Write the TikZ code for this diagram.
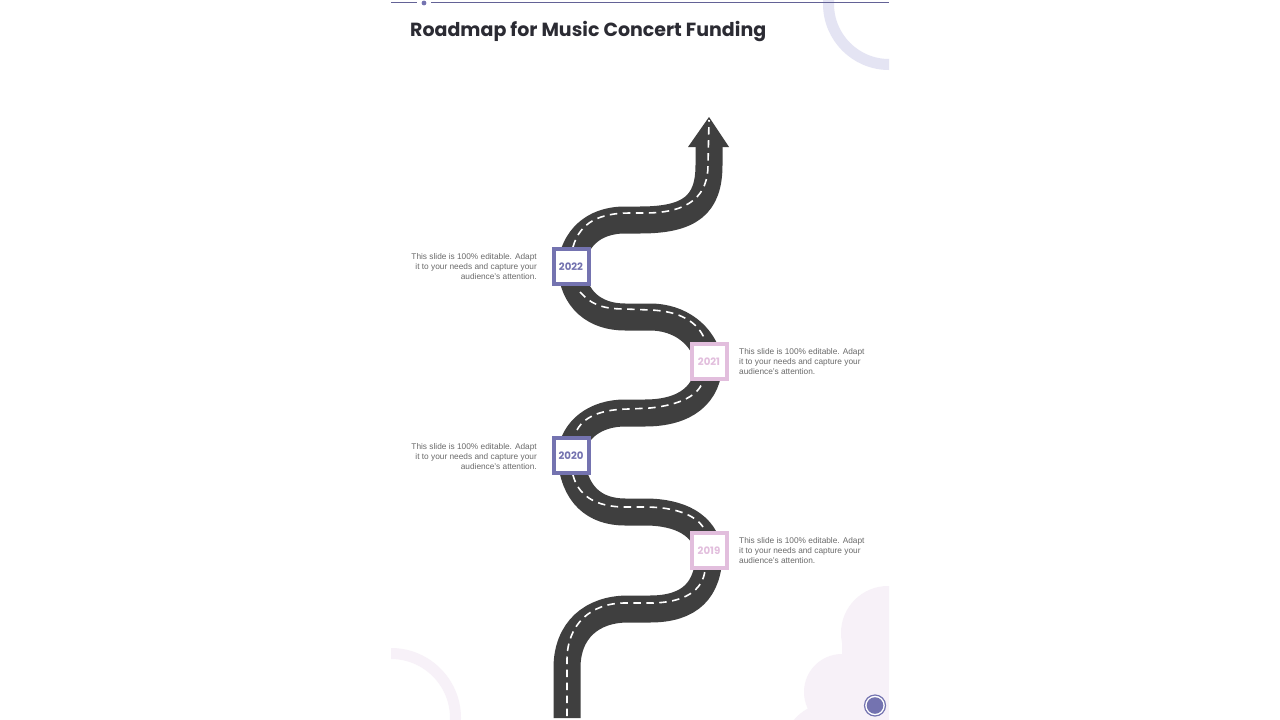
\documentclass[tikz,border=0pt]{standalone}
\usepackage{fontspec}
\setmainfont{Liberation Sans}
\newfontfamily\titlefont{Poppins}
\definecolor{roadc}{HTML}{3F3F3F}
\definecolor{purp}{HTML}{7473B0}
\definecolor{pinkb}{HTML}{E2BEDD}
\definecolor{ringa}{HTML}{E4E4F3}
\definecolor{ringb}{HTML}{F7F1F8}
\definecolor{bodyc}{HTML}{6A6A6A}
\definecolor{titlec}{HTML}{2B2B33}
\tikzset{
  yearbox/.style={draw=#1,line width=4pt,fill=white,minimum size=35pt,inner sep=0pt,text=#1,font=\titlefont\bfseries\fontsize{10.2}{12}\selectfont},
  leftnote/.style={anchor=east,align=right,text=bodyc,inner sep=0pt,font=\fontsize{8.3}{10}\selectfont},
  rightnote/.style={anchor=west,align=left,text=bodyc,inner sep=0pt,font=\fontsize{8.3}{10}\selectfont},
  roadline/.style={draw=roadc,line width=27pt,line join=round},
  laneline/.style={draw=white,line width=1.6pt,dash pattern=on 7.5pt off 5.5pt}
}
\begin{document}
\begin{tikzpicture}[x=1pt,y=-1pt]
\useasboundingbox (0,0) rectangle (1280,720);
\fill[white] (0,0) rectangle (1280,720);
% decorative shapes
\begin{scope}
\clip (391,0) rectangle (889,720);
\draw[ringa,line width=11pt] (889,4) circle[radius=60.5];
\draw[ringb,line width=11pt] (391,718) circle[radius=64.5];
\fill[ringb] (888,633) circle[radius=47];
\fill[ringb] (842,692) circle[radius=38];
\fill[ringb] (830,750) circle[radius=47];
\fill[ringb] (842,640) rectangle (889,720);
\end{scope}
% top rule
\draw[purp!85!black,line width=1.2pt] (391,2.5) -- (417,2.5);
\draw[purp!85!black,line width=1.2pt] (431,2.5) -- (889,2.5);
\fill[purp] (424,3) circle[radius=2.4];
% title
\node[anchor=west,inner sep=0pt,text=titlec,font=\titlefont\bfseries\fontsize{19}{24}\selectfont] (title) at (410,31.5) {Roadmap for Music Concert Funding};
% road
\draw[roadline] (567,718) -- (567,668)
  .. controls (567,630) and (592,609) .. (628,609) -- (650,609)
  .. controls (690,609) and (709,590) .. (709,552)
  .. controls (705,525) and (680,512) .. (645,512) -- (625,512)
  .. controls (595,512) and (573,495) .. (571,455)
  .. controls (573,430) and (595,413) .. (625,413) -- (645,413)
  .. controls (685,413) and (709,395) .. (709,361)
  .. controls (703,335) and (680,317) .. (650,317) -- (625,317)
  .. controls (595,317) and (573,300) .. (571,266)
  .. controls (574,240) and (592,220) .. (625,220) -- (640,220)
  .. controls (690,220) and (709,205) .. (709,165) -- (709,147);
\fill[roadc] (709,117) -- (729,147) -- (688,147) -- cycle;
% lane markings
\draw[laneline] (567,716) -- (567,660) .. controls (567,625) and (590,603) .. (625,603) -- (650,603) .. controls (685,603) and (703,590) .. (705,570);
\draw[laneline] (573,475) .. controls (578,495) and (595,507) .. (625,507) -- (645,507) .. controls (675,507) and (695,515) .. (703,527);
\draw[laneline] (577,430) .. controls (585,415) and (605,409) .. (630,409) -- (650,408) .. controls (680,405) and (700,395) .. (703,380);
\draw[laneline] (580,292) .. controls (590,303) and (600,309) .. (625,309) -- (650,310) .. controls (680,311) and (698,322) .. (705,340);
\draw[laneline] (573,247) .. controls (580,222) and (600,213) .. (630,213) -- (645,213) .. controls (690,213) and (708,195) .. (708,165) -- (709,120);
% year boxes
\node[yearbox=purp] (y2022) at (571,266.5) {2022};
\node[yearbox=pinkb] (y2021) at (709,361.5) {2021};
\node[yearbox=purp] (y2020) at (571,455.5) {2020};
\node[yearbox=pinkb] (y2019) at (709,550.5) {2019};
% notes
\node[leftnote] (n2022) at (537,267) {This slide is 100\% editable. Adapt\\it to your needs and capture your\\audience's attention.};
\node[rightnote] (n2021) at (739,362) {This slide is 100\% editable. Adapt\\it to your needs and capture your\\audience's attention.};
\node[leftnote] (n2020) at (537,456.5) {This slide is 100\% editable. Adapt\\it to your needs and capture your\\audience's attention.};
\node[rightnote] (n2019) at (739,551) {This slide is 100\% editable. Adapt\\it to your needs and capture your\\audience's attention.};
% page marker
\draw[purp,line width=1.2pt,fill=white] (875,705.5) circle[radius=10.5];
\fill[purp] (875,705.5) circle[radius=8.3];
\end{tikzpicture}
\end{document}
